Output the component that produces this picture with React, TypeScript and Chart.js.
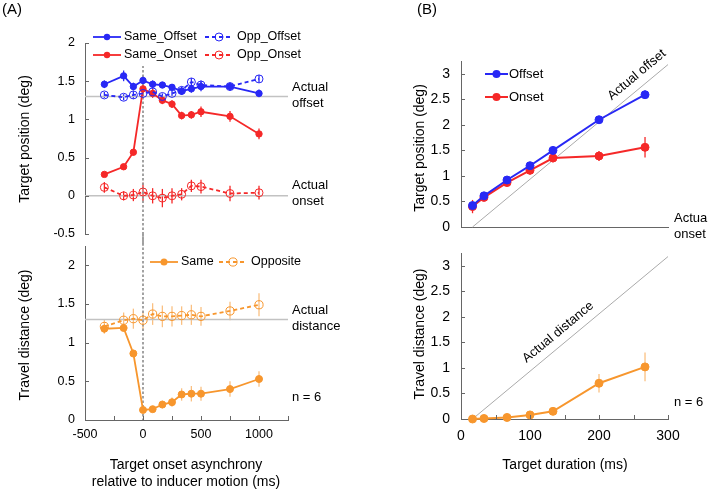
import React, { useEffect, useRef } from 'react';
import { Chart, registerables } from 'chart.js';
Chart.register(...registerables);

// ---------- Data: panel A (target onset asynchrony, ms) ----------
const asynchronyMs = [-333, -167, -83, 0, 83, 167, 250, 333, 417, 500, 750, 1000];
const sameOffset = [1.46, 1.57, 1.43, 1.51, 1.46, 1.45, 1.42, 1.37, 1.40, 1.43, 1.43, 1.34];
const sameOffsetErr = [0.05, 0.07, 0.05, 0.06, 0.05, 0.04, 0.04, 0.05, 0.05, 0.06, 0.04, 0.05];
const oppOffset = [1.32, 1.29, 1.32, 1.34, 1.36, 1.30, 1.34, 1.38, 1.49, 1.45, 1.43, 1.53];
const oppOffsetErr = [0.04, 0.04, 0.05, 0.06, 0.05, 0.04, 0.04, 0.05, 0.05, 0.06, 0.05, 0.05];
const sameOnset = [0.28, 0.38, 0.57, 1.40, 1.34, 1.25, 1.20, 1.05, 1.06, 1.10, 1.04, 0.81];
const sameOnsetErr = [0.03, 0.03, 0.04, 0.10, 0.06, 0.05, 0.05, 0.05, 0.05, 0.07, 0.07, 0.07];
const oppOnset = [0.11, 0.0, 0.01, 0.05, 0.0, -0.03, 0.0, 0.02, 0.13, 0.12, 0.03, 0.04];
const oppOnsetErr = [0.07, 0.06, 0.08, 0.12, 0.10, 0.12, 0.10, 0.08, 0.08, 0.09, 0.10, 0.09];
const sameTravel = [1.18, 1.19, 0.86, 0.13, 0.14, 0.20, 0.23, 0.33, 0.34, 0.34, 0.40, 0.53];
const sameTravelErr = [0.06, 0.04, 0.05, 0.03, 0.04, 0.05, 0.06, 0.08, 0.10, 0.09, 0.10, 0.10];
const oppTravel = [1.21, 1.29, 1.31, 1.29, 1.37, 1.34, 1.34, 1.35, 1.36, 1.34, 1.41, 1.49];
const oppTravelErr = [0.09, 0.10, 0.13, 0.12, 0.14, 0.14, 0.13, 0.12, 0.13, 0.12, 0.12, 0.15];
const actualOffsetA = 1.3;
const actualOnsetA = 0;
const actualDistanceA = 1.3;
const xLabelsA = [-500, 0, 500, 1000];

// ---------- Data: panel B (target duration, ms) ----------
const durationMs = [16.7, 33.3, 66.7, 100, 133.3, 200, 266.7];
const offsetPos = [0.42, 0.61, 0.92, 1.20, 1.50, 2.10, 2.59];
const offsetPosErr = [0.05, 0.05, 0.05, 0.07, 0.05, 0.07, 0.08];
const onsetPos = [0.40, 0.58, 0.87, 1.11, 1.35, 1.39, 1.56];
const onsetPosErr = [0.13, 0.07, 0.06, 0.08, 0.08, 0.10, 0.20];
const travelDist = [0, 0.01, 0.03, 0.08, 0.15, 0.70, 1.02];
const travelDistErr = [0.02, 0.02, 0.02, 0.03, 0.03, 0.18, 0.28];
const actualLineX = [16.7, 300];
const actualLineY = [0, 3.18];
const xLabelsB = [0, 100, 200, 300];

// ---------- Styles ----------
const FONT = '"Liberation Sans", Arial, sans-serif';
const BLUE = 'rgb(40,40,245)';
const RED = 'rgb(245,40,40)';
const ORANGE = 'rgb(247,150,45)';
const ORANGE_ERR = 'rgba(247,150,45,0.6)';
const REF = '#c2c2c2';
const AXIS = '#666';

function ds(label: string, xs: number[], ys: number[], errs: number[], color: string, open: boolean, r: number, errColor?: string, lw = 1.8) {
  return {
    label,
    data: xs.map((x, i) => ({ x, y: ys[i] })),
    errors: errs,
    errColor: errColor || color,
    borderColor: color,
    backgroundColor: color,
    borderWidth: lw,
    borderDash: open ? [4, 3] : [],
    pointRadius: open ? r + 0.8 : r,
    pointHoverRadius: open ? r + 0.8 : r,
    pointBackgroundColor: open ? 'rgba(0,0,0,0)' : color,
    pointBorderColor: color,
    pointBorderWidth: 1,
    tension: 0,
    clip: false as any,
    open,
    r,
    lw,
  };
}

const errorBarPlugin = {
  id: 'errbars',
  beforeDatasetsDraw(chart: any) {
    const ctx = chart.ctx;
    const xs = chart.scales.x, ys = chart.scales.y;
    chart.data.datasets.forEach((d: any) => {
      if (!d.errors) return;
      ctx.save();
      ctx.strokeStyle = d.errColor;
      ctx.lineWidth = 1.3;
      d.data.forEach((p: any, i: number) => {
        const e = d.errors[i];
        const px = xs.getPixelForValue(p.x);
        ctx.beginPath();
        ctx.moveTo(px, ys.getPixelForValue(p.y - e));
        ctx.lineTo(px, ys.getPixelForValue(p.y + e));
        ctx.stroke();
      });
      ctx.restore();
    });
  },
};

function inwardTicks(chart: any, drawX: boolean) {
  const ctx = chart.ctx;
  const { left, bottom } = chart.chartArea;
  ctx.save();
  ctx.strokeStyle = AXIS;
  ctx.lineWidth = 1;
  chart.scales.y.ticks.forEach((t: any) => {
    const py = Math.round(chart.scales.y.getPixelForValue(t.value)) + 0.5;
    ctx.beginPath();
    ctx.moveTo(left, py);
    ctx.lineTo(left + 4, py);
    ctx.stroke();
  });
  if (drawX) {
    chart.scales.x.ticks.forEach((t: any) => {
      const px = Math.round(chart.scales.x.getPixelForValue(t.value)) + 0.5;
      ctx.beginPath();
      ctx.moveTo(px, bottom);
      ctx.lineTo(px, bottom - 4);
      ctx.stroke();
    });
  }
  ctx.restore();
}

function text(ctx: CanvasRenderingContext2D, s: string, x: number, y: number, size = 13, align: CanvasTextAlign = 'left', rot = 0) {
  ctx.save();
  ctx.fillStyle = '#000';
  ctx.font = `${size}px ${FONT}`;
  ctx.textAlign = align;
  ctx.textBaseline = 'middle';
  ctx.translate(x, y);
  if (rot) ctx.rotate(rot);
  ctx.fillText(s, 0, 0);
  ctx.restore();
}

function legendItem(ctx: CanvasRenderingContext2D, d: any, x1: number, x2: number, y: number, tx: number, size = 12.5) {
  ctx.save();
  ctx.strokeStyle = d.borderColor;
  ctx.lineWidth = d.lw;
  ctx.setLineDash(d.open ? [4, 3] : []);
  ctx.beginPath();
  ctx.moveTo(x1, y);
  ctx.lineTo(x2, y);
  ctx.stroke();
  ctx.setLineDash([]);
  ctx.beginPath();
  ctx.arc((x1 + x2) / 2, y, d.open ? d.r + 0.8 : d.r, 0, Math.PI * 2);
  if (d.open) {
    ctx.lineWidth = 1;
    ctx.stroke();
  } else {
    ctx.fillStyle = d.borderColor;
    ctx.fill();
  }
  ctx.restore();
  text(ctx, d.label, tx, y, size);
}

function hLine(chart: any, v: number, color: string, width = 1.5) {
  const ctx = chart.ctx;
  const py = chart.scales.y.getPixelForValue(v);
  ctx.save();
  ctx.strokeStyle = color;
  ctx.lineWidth = width;
  ctx.beginPath();
  ctx.moveTo(chart.chartArea.left, py);
  ctx.lineTo(chart.chartArea.right, py);
  ctx.stroke();
  ctx.restore();
}

function zeroDash(chart: any, extendTop: number, extendBottom: number) {
  const ctx = chart.ctx;
  const px = chart.scales.x.getPixelForValue(0);
  ctx.save();
  ctx.strokeStyle = '#999';
  ctx.lineWidth = 1.8;
  ctx.setLineDash([2.5, 2]);
  ctx.beginPath();
  ctx.moveTo(px, chart.chartArea.top - extendTop);
  ctx.lineTo(px, chart.chartArea.bottom + extendBottom);
  ctx.stroke();
  ctx.restore();
}

function diagonal(chart: any) {
  const ctx = chart.ctx;
  const xs = chart.scales.x, ys = chart.scales.y;
  ctx.save();
  ctx.strokeStyle = '#aaa';
  ctx.lineWidth = 1;
  ctx.beginPath();
  ctx.moveTo(xs.getPixelForValue(actualLineX[0]), ys.getPixelForValue(actualLineY[0]));
  ctx.lineTo(xs.getPixelForValue(actualLineX[1]), ys.getPixelForValue(actualLineY[1]));
  ctx.stroke();
  ctx.restore();
}

function diagonalLabel(chart: any, xv: number, s: string) {
  const xs = chart.scales.x, ys = chart.scales.y;
  const x1 = xs.getPixelForValue(actualLineX[0]), y1 = ys.getPixelForValue(actualLineY[0]);
  const x2 = xs.getPixelForValue(actualLineX[1]), y2 = ys.getPixelForValue(actualLineY[1]);
  const ang = Math.atan2(y2 - y1, x2 - x1);
  const slope = (actualLineY[1] - actualLineY[0]) / (actualLineX[1] - actualLineX[0]);
  const yv = actualLineY[0] + slope * (xv - actualLineX[0]);
  const px = xs.getPixelForValue(xv), py = ys.getPixelForValue(yv);
  const ctx = chart.ctx;
  ctx.save();
  ctx.translate(px, py);
  ctx.rotate(ang);
  ctx.fillStyle = '#000';
  ctx.font = `13px ${FONT}`;
  ctx.textAlign = 'center';
  ctx.textBaseline = 'middle';
  ctx.fillText(s, 0, -12);
  ctx.restore();
}

const tickFontA = { family: FONT, size: 12.5 };
const tickFontB = { family: FONT, size: 14 };

function yScale(min: number, max: number, font: any, padding: number) {
  return {
    type: 'linear',
    min,
    max,
    afterFit: (s: any) => { s.width = 40; },
    ticks: { stepSize: 0.5, includeBounds: false, padding, color: '#000', font, callback: (v: any) => String(v) },
    grid: { drawOnChartArea: false, drawTicks: false },
    border: { color: AXIS, width: 1 },
  };
}

function baseOptions(padding: any, scales: any) {
  return {
    animation: false,
    responsive: false,
    maintainAspectRatio: false,
    devicePixelRatio: 1,
    events: [],
    layout: { padding },
    plugins: { legend: { display: false }, tooltip: { enabled: false } },
    scales,
  };
}

export default function App() {
  const r1 = useRef<HTMLCanvasElement>(null);
  const r2 = useRef<HTMLCanvasElement>(null);
  const r3 = useRef<HTMLCanvasElement>(null);
  const r4 = useRef<HTMLCanvasElement>(null);

  useEffect(() => {
    const charts: Chart[] = [];

    // ----- Panel A top -----
    const aTop = [
      ds('Same_Offset', asynchronyMs, sameOffset, sameOffsetErr, BLUE, false, 3.2),
      ds('Opp_Offset', asynchronyMs, oppOffset, oppOffsetErr, BLUE, true, 3.2),
      ds('Same_Onset', asynchronyMs, sameOnset, sameOnsetErr, RED, false, 3.2),
      ds('Opp_Onset', asynchronyMs, oppOnset, oppOnsetErr, RED, true, 3.2),
    ];
    charts.push(new Chart(r1.current!, {
      type: 'line',
      data: { datasets: aTop as any },
      options: baseOptions({ left: 45, right: 420, top: 43, bottom: 256 }, {
        x: { type: 'linear', min: -500, max: 1250, display: false },
        y: yScale(-0.5, 2, tickFontA, 10),
      }) as any,
      plugins: [errorBarPlugin, {
        id: 'aTopDeco',
        beforeDatasetsDraw(chart: any) {
          hLine(chart, actualOffsetA, REF);
          hLine(chart, actualOnsetA, REF);
          zeroDash(chart, 0, 12);
        },
        afterDraw(chart: any) {
          const ctx = chart.ctx;
          inwardTicks(chart, false);
          ctx.save();
          ctx.fillStyle = '#fff';
          ctx.fillRect(90, 27, 212, 39);
          ctx.restore();
          legendItem(ctx, aTop[0], 93, 121, 37, 124);
          legendItem(ctx, aTop[1], 205, 233, 37, 237);
          legendItem(ctx, aTop[2], 93, 121, 55, 124);
          legendItem(ctx, aTop[3], 205, 233, 55, 237);
          text(ctx, 'Actual', 292, 87);
          text(ctx, 'offset', 292, 103);
          text(ctx, 'Actual', 292, 185);
          text(ctx, 'onset', 292, 201);
          text(ctx, '(A)', 2, 10, 15);
          text(ctx, 'Target position (deg)', 25, 139, 14, 'center', -Math.PI / 2);
        },
      } as any],
    }));

    // ----- Panel A bottom -----
    const aBot = [
      ds('Same', asynchronyMs, sameTravel, sameTravelErr, ORANGE, false, 3.5, ORANGE_ERR),
      ds('Opposite', asynchronyMs, oppTravel, oppTravelErr, ORANGE, true, 3.3, ORANGE_ERR),
    ];
    charts.push(new Chart(r2.current!, {
      type: 'line',
      data: { datasets: aBot as any },
      options: baseOptions({ left: 45, right: 420, top: 246, bottom: 40 }, {
        x: {
          type: 'linear', min: -500, max: 1250,
          afterFit: (s: any) => { s.height = 30; },
          ticks: {
            stepSize: 250, autoSkip: false, maxRotation: 0, padding: 7, color: '#000', font: tickFontA,
            callback: (v: any) => (xLabelsA.includes(v) ? String(v) : ''),
          },
          grid: { drawOnChartArea: false, drawTicks: false },
          border: { color: AXIS, width: 1 },
        },
        y: yScale(0, 2.25, tickFontA, 10),
      }) as any,
      plugins: [errorBarPlugin, {
        id: 'aBotDeco',
        beforeDatasetsDraw(chart: any) {
          hLine(chart, actualDistanceA, REF);
          zeroDash(chart, 12, 0);
        },
        afterDraw(chart: any) {
          const ctx = chart.ctx;
          inwardTicks(chart, true);
          legendItem(ctx, aBot[0], 150, 178, 262, 181);
          legendItem(ctx, aBot[1], 219, 247, 262, 251);
          text(ctx, 'Actual', 292, 310);
          text(ctx, 'distance', 292, 326);
          text(ctx, 'n = 6', 292, 397);
          text(ctx, 'Travel distance (deg)', 25, 335, 14, 'center', -Math.PI / 2);
          text(ctx, 'Target onset asynchrony', 186, 465, 14, 'center');
          text(ctx, 'relative to inducer motion (ms)', 186, 482, 14, 'center');
        },
      } as any],
    }));

    // ----- Panel B top -----
    const bTop = [
      ds('Offset', durationMs, offsetPos, offsetPosErr, BLUE, false, 4, undefined, 2),
      ds('Onset', durationMs, onsetPos, onsetPosErr, RED, false, 4, undefined, 2),
    ];
    charts.push(new Chart(r3.current!, {
      type: 'line',
      data: { datasets: bTop as any },
      options: baseOptions({ left: 421, right: 40, top: 61, bottom: 263 }, {
        x: {
          type: 'linear', min: 0, max: 300,
          afterFit: (s: any) => { s.height = 0; },
          ticks: { display: false, stepSize: 50 },
          grid: { drawOnChartArea: false, drawTicks: false },
          border: { color: AXIS, width: 1 },
        },
        y: yScale(0, 3.25, tickFontB, 11),
      }) as any,
      plugins: [errorBarPlugin, {
        id: 'bTopDeco',
        beforeDatasetsDraw(chart: any) {
          diagonal(chart);
        },
        afterDraw(chart: any) {
          const ctx = chart.ctx;
          inwardTicks(chart, false);
          legendItem(ctx, bTop[0], 485, 508, 74, 509, 13);
          legendItem(ctx, bTop[1], 485, 508, 97, 509, 13);
          diagonalLabel(chart, 266, 'Actual offset');
          text(ctx, 'Actual', 674, 218);
          text(ctx, 'onset', 674, 234);
          text(ctx, '(B)', 417, 10, 15);
          text(ctx, 'Target position (deg)', 420, 148, 14, 'center', -Math.PI / 2);
        },
      } as any],
    }));

    // ----- Panel B bottom -----
    const bBot = [
      ds('Travel', durationMs, travelDist, travelDistErr, ORANGE, false, 4, ORANGE_ERR, 2),
    ];
    charts.push(new Chart(r4.current!, {
      type: 'line',
      data: { datasets: bBot as any },
      options: baseOptions({ left: 421, right: 40, top: 253, bottom: 41 }, {
        x: {
          type: 'linear', min: 0, max: 300,
          afterFit: (s: any) => { s.height = 30; },
          ticks: {
            stepSize: 50, autoSkip: false, maxRotation: 0, padding: 9, color: '#000', font: tickFontB,
            callback: (v: any) => (xLabelsB.includes(v) ? String(v) : ''),
          },
          grid: { drawOnChartArea: false, drawTicks: false },
          border: { color: AXIS, width: 1 },
        },
        y: yScale(0, 3.25, tickFontB, 11),
      }) as any,
      plugins: [errorBarPlugin, {
        id: 'bBotDeco',
        beforeDatasetsDraw(chart: any) {
          diagonal(chart);
        },
        afterDraw(chart: any) {
          const ctx = chart.ctx;
          inwardTicks(chart, true);
          diagonalLabel(chart, 152, 'Actual distance');
          text(ctx, 'n = 6', 674, 402);
          text(ctx, 'Travel distance (deg)', 420, 334, 14, 'center', -Math.PI / 2);
          text(ctx, 'Target duration (ms)', 565, 465, 14, 'center');
        },
      } as any],
    }));

    return () => { charts.forEach((c) => c.destroy()); };
  }, []);

  const cv: React.CSSProperties = { position: 'absolute', left: 0, top: 0, width: 708, height: 490 };
  return (
    <div style={{ position: 'fixed', left: 0, top: 0, width: 708, height: 490, background: '#fff' }}>
      <canvas ref={r1} width={708} height={490} style={cv} />
      <canvas ref={r2} width={708} height={490} style={cv} />
      <canvas ref={r3} width={708} height={490} style={cv} />
      <canvas ref={r4} width={708} height={490} style={cv} />
    </div>
  );
}
